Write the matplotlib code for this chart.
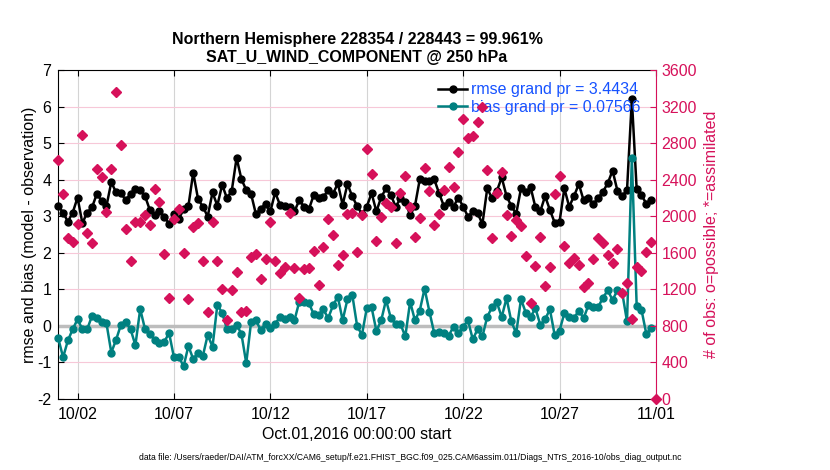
import numpy as np
import pandas as pd
import matplotlib
matplotlib.use('Agg')
import matplotlib.pyplot as plt

plt.rcParams['font.family'] = ['Liberation Sans', 'DejaVu Sans']
plt.rcParams['axes.unicode_minus'] = False

# 6-hourly bins, Oct 1 00Z .. Nov 1 00Z
times = pd.date_range('2016-10-01 00:00', periods=125, freq='6h')

rmse = [3.28, 3.10, 2.85, 3.10, 3.51, 2.81, 3.10, 3.24, 3.61, 3.42, 3.28, 3.93, 3.65, 3.63,
        3.44, 3.61, 3.74, 3.72, 3.55, 3.17, 3.03, 3.13, 2.99, 2.79, 3.06, 2.92, 3.19, 3.28,
        4.19, 3.47, 3.26, 2.99, 3.65, 3.29, 3.86, 3.49, 3.70, 4.60, 4.01, 3.72, 3.61, 3.06,
        3.19, 3.34, 3.13, 3.65, 3.31, 3.28, 3.26, 3.13, 3.44, 3.26, 3.19, 3.58, 3.49, 3.52,
        3.72, 3.61, 3.90, 3.31, 3.88, 3.54, 3.28, 3.06, 3.26, 3.63, 3.13, 3.52, 3.76, 3.58,
        3.26, 3.49, 3.40, 3.03, 3.28, 4.01, 3.95, 3.97, 4.01, 3.63, 3.28, 3.40, 3.26,
        3.51, 3.26, 2.99, 3.13, 3.08, 2.79, 3.76, 3.49, 3.69, 4.06, 3.55, 3.28, 3.06, 3.76,
        3.65, 3.79, 3.24, 3.13, 3.55, 3.17, 2.82, 2.85, 3.76, 3.26, 3.55, 3.88, 3.43, 3.49,
        3.34, 3.49, 3.67, 3.90, 4.25, 3.70, 3.55, 3.72, 6.20, 3.74, 3.58, 3.34, 3.43, np.nan]

bias = [-0.34, -0.86, -0.40, -0.09, 0.18, -0.09, -0.09, 0.27, 0.22, 0.10, 0.07, -0.73, -0.38,
        0.03, 0.10, -0.09, -0.53, 0.46, -0.09, -0.22, -0.38, -0.46, -0.43, -0.20, -0.86, -0.84,
        -1.11, -0.55, -0.91, -0.73, -0.82, -0.25, -0.57, 0.57, 0.36, -0.09, -0.09, 0.03, -0.22,
        -1.02, 0.10, 0.15,
        -0.11, 0.05, -0.06, 0.05, 0.25, 0.18, 0.25, 0.15, 0.66, 0.65, 0.62, 0.32, 0.30, 0.45,
        0.21, 0.56, 0.80, 0.15, 0.73, 0.85, 0.00, -0.25, 0.48, 0.51, -0.14, 0.15, 0.71, 0.21,
        0.05, 0.05, -0.29, 0.66, 0.15, 0.42, 1.02, 0.39, -0.20, -0.18, -0.20, -0.27, -0.02,
        -0.20, -0.02, 0.15, -0.37, -0.09, -0.29, 0.25, 0.51, 0.64, 0.24, 0.76, 0.12, -0.20,
        0.73, 0.36, 0.25, 0.48, 0.03, 0.18, 0.45, -0.26, -0.13, 0.35, 0.25, 0.21, 0.42, 0.21,
        0.57, 0.51, 0.51, 0.77, 0.97, 0.71, 0.97, 0.91, 0.12, 4.58, 0.55, 0.44, -0.22, -0.06,
        np.nan]

nobs = [2616, 2244, 1759, 1722, 1916, 2885, 1813, 1704, 2513, 2426, 2043, 2521, 3356, 2776,
        1857, 1511, 1934, 1934, 2010, 1905, 2302, 2152, 1587, 1103, 1967, 2076, 1598, 1099,
        1886, 1923, 1511, 949, 1934, 1511, 1205, 865, 1194, 1394, 949, 968, 1551, 1587,
        1310, 1529, 1941, 1511, 1383, 1442, 2032, 1431, 1110, 1423, 1431, 1620, 1248, 1668,
        1967, 1795, 1467, 1576, 2021, 2040, 1606, 2014, 2736, 2462, 1730, 1988, 2142, 2098,
        1704, 2251, 2441, 2098, 1777, 1978, 2524, 2280, 1905, 2025, 2287, 2543, 2324,
        2707, 3060, 2853, 2878, 3035, 3199, 2506, 1759, 2251, 2488, 2014, 1788, 1959, 1894,
        1566, 1055, 1456, 1777, 1237, 1442, 2244, 2441, 1675, 1485, 1547, 1467, 1223, 1267,
        1529, 1759, 1711, 1576, 1485, 1638, 1164, 1274, 873, 1442, 1402, 1613, 1722, 0]

tick_dates = pd.date_range('2016-10-02', '2016-11-01', freq='5D')
tick_labels = [d.strftime('%m/%d') for d in tick_dates]

red = '#d6115a'
teal = '#008080'
blue = '#1652ff'
fs = 11.5

fig = plt.figure(figsize=(8.3, 4.7), dpi=100)
ax = fig.add_axes([0.0702, 0.1511, 0.7201, 0.700])

ax.axhline(0, color='#bdbdbd', lw=2.5, zorder=1)
ax.plot(times, rmse, '-o', color='k', lw=1.8, ms=5, zorder=3, clip_on=False,
        label='rmse grand pr = 3.4434')
ax.plot(times, bias, '-o', color=teal, lw=1.8, ms=5, zorder=3, clip_on=False,
        label='bias grand pr = 0.07566')

ax.set_xlim(times[0], times[-1])
ax.set_ylim(-2, 7)
ax.set_yticks(range(-2, 8))
ax.set_xticks(tick_dates)
ax.set_xticklabels(tick_labels)
ax.xaxis.grid(True, color='#d4d4d4', lw=0.8)
ax.yaxis.grid(True, color='#f7c8d8', lw=0.8)
ax.set_axisbelow(True)
ax.tick_params(direction='in', length=4, top=True, right=False, labelsize=fs, pad=5)
ax.tick_params(axis='x', pad=6)
ax.spines['right'].set_visible(False)

ax.set_title('Northern Hemisphere 228354 / 228443 = 99.961%\nSAT_U_WIND_COMPONENT @ 250 hPa',
             fontweight='bold', fontsize=fs, pad=6)
ax.set_ylabel('rmse and bias (model - observation)', fontsize=fs)
ax.yaxis.set_label_coords(-0.036, 0.5)
ax.set_xlabel('Oct.01,2016 00:00:00 start', fontsize=fs)
ax.xaxis.set_label_coords(0.5, -0.085)

ax.legend(loc='upper left', bbox_to_anchor=(0.635, 0.962), frameon=False, fontsize=fs,
          handlelength=1.85, handletextpad=0.25, labelspacing=0.15, borderpad=0,
          borderaxespad=0, labelcolor=blue)

ax2 = ax.twinx()
ax2.plot(times, nobs, 'D', color=red, ms=4.6, clip_on=False, zorder=4)
ax2.set_ylim(0, 3600)
ax2.set_yticks(range(0, 3601, 400))
ax2.tick_params(axis='y', direction='in', length=4, colors=red, labelsize=fs, pad=4)
for s in ['left', 'top', 'bottom']:
    ax2.spines[s].set_visible(False)
ax2.spines['right'].set_color(red)
ax2.set_ylabel('# of obs: o=possible; *=assimilated', color=red, fontsize=fs)
ax2.yaxis.set_label_coords(1.080, 0.5)

fig.text(0.494, 1 - 457 / 470,
         'data file: /Users/raeder/DAI/ATM_forcXX/CAM6_setup/f.e21.FHIST_BGC.f09_025.CAM6assim.011/Diags_NTrS_2016-10/obs_diag_output.nc',
         fontsize=6.2, ha='center', va='center')

fig.savefig('out.png', dpi=100)
